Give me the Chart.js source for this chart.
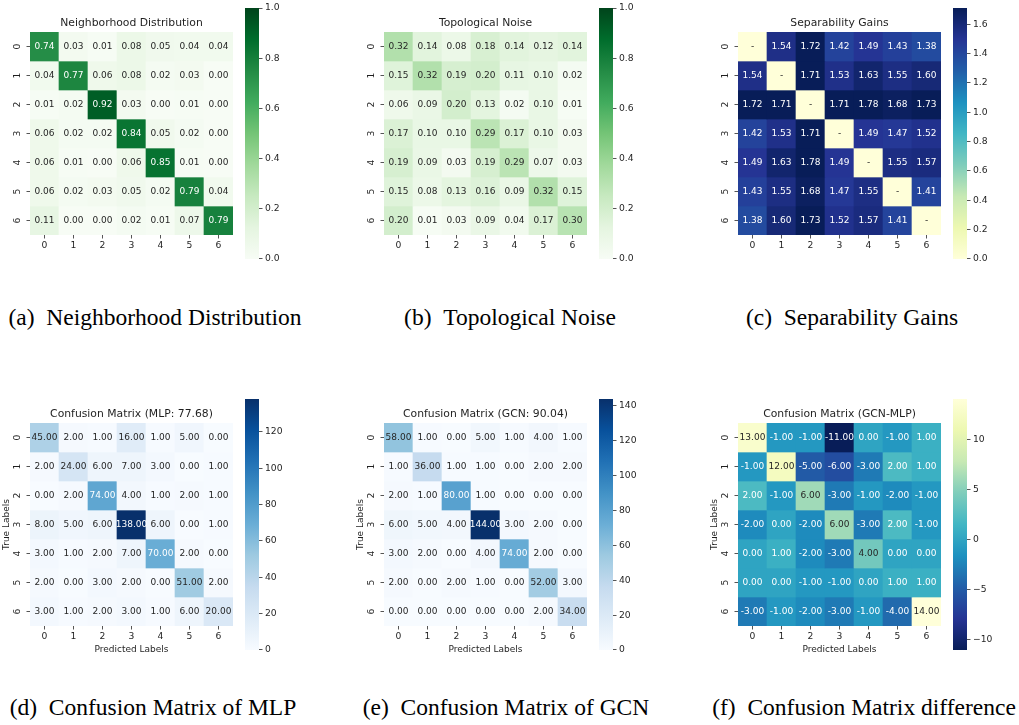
<!DOCTYPE html>
<html>
<head>
<meta charset="utf-8">
<title>Heatmaps</title>
<script src="https://cdn.jsdelivr.net/npm/chart.js@4.4.1/dist/chart.umd.min.js"></script>
<style>
  html, body { margin: 0; padding: 0; background: #ffffff; }
  #fig { position: relative; width: 1019px; height: 725px; overflow: hidden; background: #ffffff; }
  #fig canvas { position: absolute; }
  .cap {
    position: absolute;
    font-family: "Liberation Serif", "Times New Roman", serif;
    font-size: 23.5px;
    line-height: 23.5px;
    white-space: pre;
    color: #000000;
    transform: translateX(-50%);
  }
</style>
</head>
<body>
<div id="fig"></div>
<script>
// ---- data -------------------------------------------------------------
const classLabels = ['0', '1', '2', '3', '4', '5', '6'];

const neighborhoodDist = [
  [0.74, 0.03, 0.01, 0.08, 0.05, 0.04, 0.04],
  [0.04, 0.77, 0.06, 0.08, 0.02, 0.03, 0.00],
  [0.01, 0.02, 0.92, 0.03, 0.00, 0.01, 0.00],
  [0.06, 0.02, 0.02, 0.84, 0.05, 0.02, 0.00],
  [0.06, 0.01, 0.00, 0.06, 0.85, 0.01, 0.00],
  [0.06, 0.02, 0.03, 0.05, 0.02, 0.79, 0.04],
  [0.11, 0.00, 0.00, 0.02, 0.01, 0.07, 0.79]
];

const topologicalNoise = [
  [0.32, 0.14, 0.08, 0.18, 0.14, 0.12, 0.14],
  [0.15, 0.32, 0.19, 0.20, 0.11, 0.10, 0.02],
  [0.06, 0.09, 0.20, 0.13, 0.02, 0.10, 0.01],
  [0.17, 0.10, 0.10, 0.29, 0.17, 0.10, 0.03],
  [0.19, 0.09, 0.03, 0.19, 0.29, 0.07, 0.03],
  [0.15, 0.08, 0.13, 0.16, 0.09, 0.32, 0.15],
  [0.20, 0.01, 0.03, 0.09, 0.04, 0.17, 0.30]
];

// diagonal has no pairwise gain
const separabilityGains = [
  [null, 1.54, 1.72, 1.42, 1.49, 1.43, 1.38],
  [1.54, null, 1.71, 1.53, 1.63, 1.55, 1.60],
  [1.72, 1.71, null, 1.71, 1.78, 1.68, 1.73],
  [1.42, 1.53, 1.71, null, 1.49, 1.47, 1.52],
  [1.49, 1.63, 1.78, 1.49, null, 1.55, 1.57],
  [1.43, 1.55, 1.68, 1.47, 1.55, null, 1.41],
  [1.38, 1.60, 1.73, 1.52, 1.57, 1.41, null]
];

const mlpConfusion = [
  [45, 2, 1, 16, 1, 5, 0],
  [2, 24, 6, 7, 3, 0, 1],
  [0, 2, 74, 4, 1, 2, 1],
  [8, 5, 6, 138, 6, 0, 1],
  [3, 1, 2, 7, 70, 2, 0],
  [2, 0, 3, 2, 0, 51, 2],
  [3, 1, 2, 3, 1, 6, 20]
];

const gcnConfusion = [
  [58, 1, 0, 5, 1, 4, 1],
  [1, 36, 1, 1, 0, 2, 2],
  [2, 1, 80, 1, 0, 0, 0],
  [6, 5, 4, 144, 3, 2, 0],
  [3, 2, 0, 4, 74, 2, 0],
  [2, 0, 2, 1, 0, 52, 3],
  [0, 0, 0, 0, 0, 2, 34]
];

const diffConfusion = [
  [13, -1, -1, -11, 0, -1, 1],
  [-1, 12, -5, -6, -3, 2, 1],
  [2, -1, 6, -3, -1, -2, -1],
  [-2, 0, -2, 6, -3, 2, -1],
  [0, 1, -2, -3, 4, 0, 0],
  [0, 0, -1, -1, 0, 1, 1],
  [-3, -1, -2, -3, -1, -4, 14]
];

// colour-scale limits and colorbar ticks
const probRange = [0, 1];
const sepRange = [0, 1.71];
const mlpRange = [0, 138];
const gcnRange = [0, 144];
const diffRange = [-11, 14];

const probTicks = [0, 0.2, 0.4, 0.6, 0.8, 1.0];
const sepTicks = [0, 0.2, 0.4, 0.6, 0.8, 1.0, 1.2, 1.4, 1.6];
const mlpTicks = [0, 20, 40, 60, 80, 100, 120];
const gcnTicks = [0, 20, 40, 60, 80, 100, 120, 140];
const diffTicks = [-10, -5, 0, 5, 10];

// ---- colour maps (ColorBrewer 9-class) ----------------------------------
const GREENS = ['#f7fcf5', '#e5f5e0', '#c7e9c0', '#a1d99b', '#74c476', '#41ab5d', '#238b45', '#006d2c', '#00441b'];
const BLUES  = ['#f7fbff', '#deebf7', '#c6dbef', '#9ecae1', '#6baed6', '#4292c6', '#2171b5', '#08519c', '#08306b'];
const YLGNBU = ['#ffffd9', '#edf8b1', '#c7e9b4', '#7fcdbb', '#41b6c4', '#1d91c0', '#225ea8', '#253494', '#081d58'];
const YLGNBU_R = YLGNBU.slice().reverse();

const INK = '#1f1f1f';
const DARK_TEXT = '#262626';
const FONT = "'DejaVu Sans', 'Liberation Sans', sans-serif";

function hexToRgb(h) {
  return [parseInt(h.slice(1, 3), 16), parseInt(h.slice(3, 5), 16), parseInt(h.slice(5, 7), 16)];
}

// sample a 256-level lookup like a segmented colormap
function colourAt(stops, range, v) {
  const val = (v === null) ? range[0] : v;
  let t = (val - range[0]) / (range[1] - range[0]);
  t = Math.min(1, Math.max(0, t));
  const idx = Math.min(255, Math.floor(t * 256));
  const pos = idx / 255 * (stops.length - 1);
  const i = Math.min(stops.length - 2, Math.floor(pos));
  const f = pos - i;
  const a = hexToRgb(stops[i]), b = hexToRgb(stops[i + 1]);
  return a.map((x, k) => Math.round(x + (b[k] - x) * f));
}

function luminance(rgb) {
  const lin = c => { c /= 255; return c <= 0.03928 ? c / 12.92 : Math.pow((c + 0.055) / 1.055, 2.4); };
  return 0.2126 * lin(rgb[0]) + 0.7152 * lin(rgb[1]) + 0.0722 * lin(rgb[2]);
}

const rgbStr = c => `rgb(${c[0]},${c[1]},${c[2]})`;
const fmt2 = v => (v === null ? '-' : v.toFixed(2));
const fmtTenth = v => v.toFixed(1);
const fmtInt = v => String(Math.round(v));
const fmtSigned = v => (v < 0 ? '\u2212' + String(Math.round(-v)) : String(Math.round(v)));

// ---- layout -------------------------------------------------------------
const fig = document.getElementById('fig');
const CELL = 29, GRID = CELL * 7;
const AX_W = 30, AX_H = 35, TITLE_H = 32;
const CB_W = 14, CB_AX = 35, CB_PAD = 7, CB_H = 253;
const colLeft = [30, 384, 738];
const rowTop = [32, 423];
const cbLeft = [245, 599, 953];
const cbTop = [7, 398];

Chart.defaults.font.family = FONT;
Chart.defaults.color = INK;

function makeCanvas(x, y, w, h) {
  const c = document.createElement('canvas');
  c.width = w; c.height = h;
  c.style.left = x + 'px'; c.style.top = y + 'px';
  c.style.width = w + 'px'; c.style.height = h + 'px';
  fig.appendChild(c);
  return c;
}

const tickGrid = { drawOnChartArea: false, drawTicks: true, tickLength: 3.5, color: '#2a2a2a', lineWidth: 0.8 };

function drawHeatmap(p, left, top) {
  const canvas = makeCanvas(left - AX_W, top - TITLE_H, AX_W + GRID + 2, TITLE_H + GRID + AX_H);
  const fills = p.values.map(row => row.map(v => colourAt(p.cmap, p.range, v)));
  const inks = fills.map(row => row.map(c => (luminance(c) > 0.408 ? DARK_TEXT : '#ffffff')));

  // one stacked bar segment per cell; row r occupies [r, r+1] on the row axis
  const datasets = p.values.map((row, r) => ({
    label: classLabels[r],
    data: row.map(() => 1),
    backgroundColor: fills[r].map(rgbStr),
    borderWidth: 0,
    barPercentage: 1,
    categoryPercentage: 1
  }));

  const cellText = {
    id: 'cellText',
    afterDatasetsDraw(chart) {
      const ctx = chart.ctx;
      ctx.save();
      ctx.font = `9px ${FONT}`;
      ctx.textAlign = 'center';
      ctx.textBaseline = 'middle';
      chart.data.datasets.forEach((ds, r) => {
        chart.getDatasetMeta(r).data.forEach((bar, c) => {
          const { x, y, base } = bar.getProps(['x', 'y', 'base'], true);
          ctx.fillStyle = inks[r][c];
          ctx.fillText(p.format(p.values[r][c]), x, (y + base) / 2 + 0.5);
        });
      });
      ctx.restore();
    }
  };

  new Chart(canvas, {
    type: 'bar',
    data: { labels: classLabels, datasets },
    options: {
      responsive: false,
      animation: false,
      events: [],
      layout: { padding: { left: 0, top: 0, right: 2, bottom: 0 } },
      plugins: {
        legend: { display: false },
        tooltip: { enabled: false },
        title: {
          display: true, text: p.title, fullSize: false, color: INK,
          font: { size: 10.8, weight: 'normal', lineHeight: '13px' },
          padding: { top: 16.5, bottom: 2.5 }
        }
      },
      scales: {
        x: {
          stacked: true,
          offset: true,
          grid: Object.assign({ offset: false }, tickGrid),
          border: { display: false },
          ticks: { font: { size: 9.2 }, color: INK, padding: 1.2, autoSkip: false, minRotation: 0, maxRotation: 0 },
          title: {
            display: !!p.xTitle, text: p.xTitle || '', color: INK,
            font: { size: 9 }, padding: { top: 0, bottom: 6.3 }
          },
          afterFit: s => { s.height = AX_H; }
        },
        y: {
          stacked: true,
          reverse: true,
          min: 0,
          max: 7,
          grid: tickGrid,
          border: { display: false },
          afterBuildTicks: s => { s.ticks = classLabels.map((_, i) => ({ value: i + 0.5 })); },
          ticks: {
            font: { size: 9.2 }, color: INK, padding: 6.3,
            minRotation: 90, maxRotation: 90, crossAlign: 'center',
            callback: v => classLabels[Math.round(v - 0.5)]
          },
          title: {
            display: !!p.yTitle, text: p.yTitle || '', color: INK,
            font: { size: 9 }, padding: { top: 1.1, bottom: 0 }
          },
          afterFit: s => { s.width = AX_W; }
        }
      }
    },
    plugins: [cellText]
  });
}

function drawColorbar(p, left, top) {
  const canvas = makeCanvas(left, top - CB_PAD, CB_W + CB_AX, CB_H + 2 * CB_PAD);
  const stops = p.cmap;
  new Chart(canvas, {
    type: 'bar',
    data: {
      labels: [''],
      datasets: [{
        data: [[p.range[0], p.range[1]]],
        borderWidth: 0,
        barPercentage: 1,
        categoryPercentage: 1,
        backgroundColor: ctx => {
          const area = ctx.chart.chartArea;
          if (!area) return stops[0];
          const g = ctx.chart.ctx.createLinearGradient(0, area.bottom, 0, area.top);
          stops.forEach((s, i) => g.addColorStop(i / (stops.length - 1), s));
          return g;
        }
      }]
    },
    options: {
      responsive: false,
      animation: false,
      events: [],
      layout: { padding: { left: 0, top: CB_PAD, right: 0, bottom: CB_PAD } },
      plugins: { legend: { display: false }, tooltip: { enabled: false } },
      scales: {
        x: { display: false },
        y: {
          position: 'right',
          min: p.range[0],
          max: p.range[1],
          grid: tickGrid,
          border: { display: false },
          afterBuildTicks: s => { s.ticks = p.ticks.map(v => ({ value: v })); },
          ticks: { font: { size: 9.2 }, color: INK, padding: 2.5, callback: v => p.tickFormat(v) },
          afterFit: s => { s.width = CB_AX; }
        }
      }
    }
  });
}

// ---- panels -------------------------------------------------------------
const panels = [
  { values: neighborhoodDist, title: 'Neighborhood Distribution', cmap: GREENS, range: probRange, ticks: probTicks, format: fmt2, tickFormat: fmtTenth },
  { values: topologicalNoise, title: 'Topological Noise', cmap: GREENS, range: probRange, ticks: probTicks, format: fmt2, tickFormat: fmtTenth },
  { values: separabilityGains, title: 'Separability Gains', cmap: YLGNBU, range: sepRange, ticks: sepTicks, format: fmt2, tickFormat: fmtTenth },
  { values: mlpConfusion, title: 'Confusion Matrix (MLP: 77.68)', cmap: BLUES, range: mlpRange, ticks: mlpTicks, format: fmt2, tickFormat: fmtInt, xTitle: 'Predicted Labels', yTitle: 'True Labels' },
  { values: gcnConfusion, title: 'Confusion Matrix (GCN: 90.04)', cmap: BLUES, range: gcnRange, ticks: gcnTicks, format: fmt2, tickFormat: fmtInt, xTitle: 'Predicted Labels', yTitle: 'True Labels' },
  { values: diffConfusion, title: 'Confusion Matrix (GCN-MLP)', cmap: YLGNBU_R, range: diffRange, ticks: diffTicks, format: fmt2, tickFormat: fmtSigned, xTitle: 'Predicted Labels', yTitle: 'True Labels' }
];

panels.forEach((p, i) => {
  const c = i % 3, r = Math.floor(i / 3);
  drawHeatmap(p, colLeft[c], rowTop[r]);
  drawColorbar(p, cbLeft[c], cbTop[r]);
});

// ---- sub-figure captions ----------------------------------------------
const captions = [
  { text: '(a)\u2002Neighborhood Distribution', x: 155, y: 306 },
  { text: '(b)\u2002Topological Noise', x: 510, y: 306 },
  { text: '(c)\u2002Separability Gains', x: 852, y: 306 },
  { text: '(d)\u2002Confusion Matrix of MLP', x: 153, y: 696 },
  { text: '(e)\u2002Confusion Matrix of GCN', x: 506, y: 696 },
  { text: '(f)\u2002Confusion Matrix difference', x: 864, y: 696 }
];
captions.forEach(cp => {
  const d = document.createElement('div');
  d.className = 'cap';
  d.textContent = cp.text;
  d.style.left = cp.x + 'px';
  d.style.top = cp.y + 'px';
  fig.appendChild(d);
});
</script>
</body>
</html>
